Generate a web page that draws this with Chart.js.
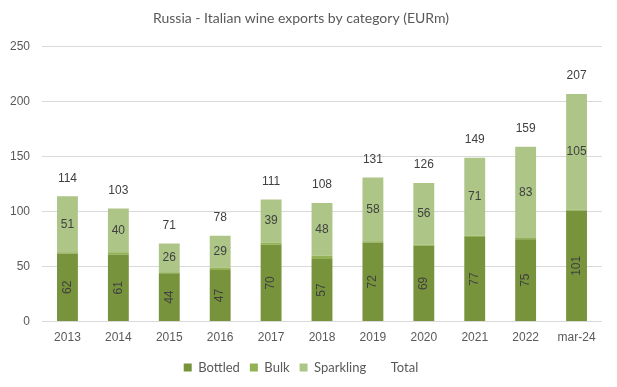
<!DOCTYPE html>
<html>
<head>
<meta charset="utf-8">
<script src="https://cdn.jsdelivr.net/npm/chart.js@4/dist/chart.umd.min.js"></script>
<style>
    html, body { margin: 0; padding: 0; background: #ffffff; }
    #wrap { width: 617px; height: 387px; }
</style>
</head>
<body>
<div id="wrap"><canvas id="barChart" width="617" height="387"></canvas></div>
<script>
    "use strict";

    var categories = ["2013", "2014", "2015", "2016", "2017", "2018", "2019", "2020", "2021", "2022", "mar-24"];
    var bottled = [62, 61, 44, 47, 70, 57, 72, 69, 77, 75, 101];
    var bulk = [1, 2, 1, 2, 2, 3, 1, 1, 1, 1, 1];
    var sparkling = [51, 40, 26, 29, 39, 48, 58, 56, 71, 83, 105];
    var totals = [114, 103, 71, 78, 111, 108, 131, 126, 149, 159, 207];
    var yTicks = [0, 50, 100, 150, 200, 250];

    var labelFont = "12px 'Liberation Sans', Arial, sans-serif";

    // draws the value labels the way excel does it
    var valueLabels = {
        id: "valueLabels",
        afterDatasetsDraw: function (chart) {
            var ctx = chart.ctx;
            ctx.save();
            ctx.font = labelFont;
            ctx.fillStyle = "#404040";
            ctx.textAlign = "center";
            ctx.textBaseline = "middle";

            chart.getDatasetMeta(0).data.forEach(function (bar, i) {
                var cy = (bar.y + bar.base) / 2;
                ctx.save();
                ctx.translate(bar.x, cy);
                ctx.rotate(-Math.PI / 2);
                ctx.fillText(String(bottled[i]), 0, 0);
                ctx.restore();
            });

            chart.getDatasetMeta(2).data.forEach(function (bar, i) {
                var cy = (bar.y + bar.base) / 2;
                ctx.fillText(String(sparkling[i]), bar.x, cy);
            });

            chart.getDatasetMeta(3).data.forEach(function (pt, i) {
                ctx.fillText(String(totals[i]), pt.x, pt.y - 18);
            });
            ctx.restore();
        }
    };

    var ctx = document.getElementById("barChart");
    var myChart = new Chart(ctx, {
        type: "bar",
        data: {
            labels: categories,
            datasets: [{
                label: "Bottled",
                backgroundColor: "#77933c",
                data: bottled
            }, {
                label: "Bulk",
                backgroundColor: "#93b155",
                data: bulk
            }, {
                label: "Sparkling",
                backgroundColor: "#adc687",
                data: sparkling
            }, {
                label: "Total",
                type: "line",
                data: totals,
                showLine: false,
                pointRadius: 0,
                backgroundColor: "rgba(0,0,0,0)",
                borderColor: "rgba(0,0,0,0)"
            }]
        },
        options: {
            responsive: false,
            animation: false,
            devicePixelRatio: 1,
            barPercentage: 0.82,
            categoryPercentage: 0.5,
            layout: {
                padding: { left: 0, right: 15, top: 0, bottom: 3 }
            },
            plugins: {
                title: {
                    display: true,
                    text: "Russia - Italian wine exports by category (EURm)",
                    color: "#595959",
                    font: { family: "Lato, 'Open Sans', sans-serif", size: 14, weight: "normal" },
                    padding: { top: 10, bottom: 20 }
                },
                legend: {
                    position: "bottom",
                    labels: {
                        boxWidth: 8,
                        boxHeight: 8,
                        padding: 10,
                        color: "#595959",
                        font: { family: "Lato, 'Open Sans', sans-serif", size: 13 }
                    }
                },
                tooltip: { enabled: false }
            },
            scales: {
                x: {
                    stacked: true,
                    afterFit: function (scale) { scale.height += 5; },
                    grid: { display: false },
                    border: { display: false },
                    ticks: {
                        color: "#595959",
                        padding: 1,
                        font: { family: "'Liberation Sans', Arial, sans-serif", size: 12 }
                    }
                },
                y: {
                    stacked: true,
                    min: 0,
                    max: 250,
                    afterFit: function (scale) { scale.width = 42; },
                    afterBuildTicks: function (scale) {
                        scale.ticks = yTicks.map(function (v) { return { value: v }; });
                    },
                    grid: { color: "#d9d9d9", drawTicks: false },
                    border: { display: false },
                    ticks: {
                        color: "#595959",
                        padding: 12,
                        font: { family: "'Liberation Sans', Arial, sans-serif", size: 12 }
                    }
                }
            }
        },
        plugins: [valueLabels]
    });
</script>
</body>
</html>
